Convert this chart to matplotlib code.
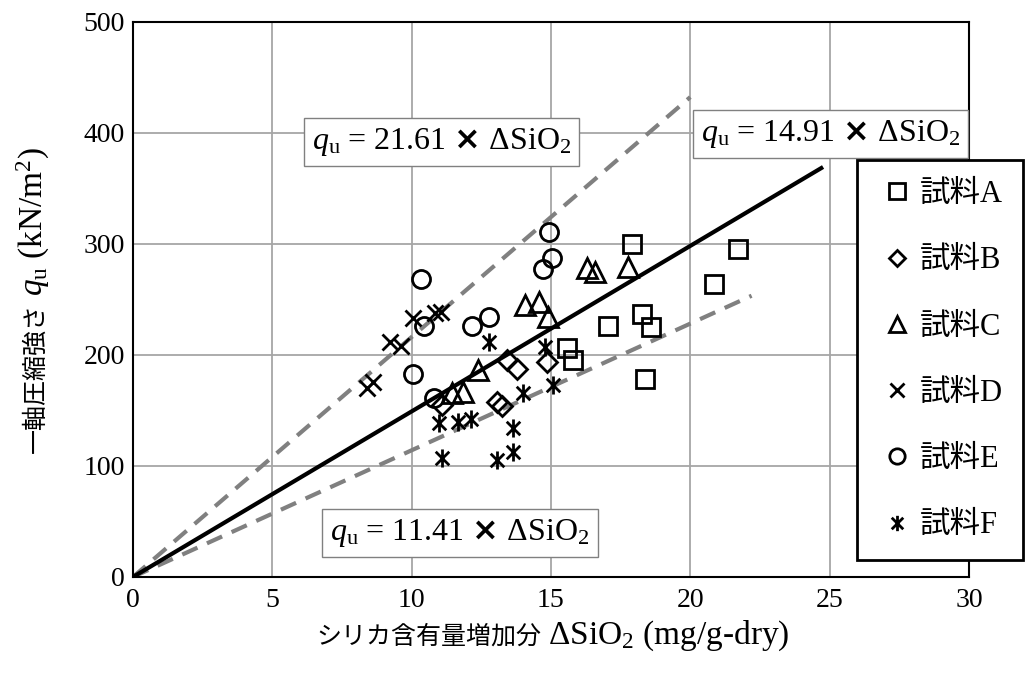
import numpy as np
import matplotlib
matplotlib.use("Agg")
import matplotlib.pyplot as plt
from matplotlib.path import Path
from matplotlib.lines import Line2D

plt.rcParams['font.family'] = ['Liberation Serif', 'Noto Sans CJK JP']
plt.rcParams['mathtext.fontset'] = 'custom'
plt.rcParams['mathtext.rm'] = 'Liberation Serif'
plt.rcParams['mathtext.it'] = 'Liberation Serif:italic'
plt.rcParams['mathtext.bf'] = 'DejaVu Sans:bold'

# ------------------------------------------------------------
# data
# ------------------------------------------------------------
a_x = [17.9, 21.7, 20.84, 17.04, 18.26, 18.58, 15.57, 15.78, 18.36]
a_y = [300, 295, 264, 226, 237, 225, 206, 195, 178]

b_x = [11.08, 13.06, 13.24, 13.41, 13.77, 14.85]
b_y = [155, 158, 154, 195, 187, 194]

c_x = [11.44, 11.84, 12.37, 14.06, 14.56, 14.89, 16.28, 16.57, 17.75]
c_y = [166, 167, 186, 245, 248, 234, 278, 275, 279]

d_x = [8.39, 8.61, 9.22, 9.61, 10.04, 10.83, 11.05]
d_y = [170, 176, 212, 208, 233, 238, 239]

e_x = [10.33, 10.44, 10.04, 10.8, 12.16, 12.77, 14.92, 15.03, 14.7]
e_y = [268, 226, 183, 161, 226, 234, 311, 287, 277]

f_x = [12.77, 14.78, 15.06, 13.99, 13.63, 13.63, 13.06, 12.12, 11.66, 10.98, 11.08]
f_y = [212, 207, 173, 166, 134, 113, 105, 142, 140, 139, 107]

labels = ['試料A', '試料B', '試料C', '試料D', '試料E', '試料F']

# fitted slopes and the x range each line is drawn over
slope_upper, xmax_upper = 21.61, 20.0
slope_mid, xmax_mid = 14.91, 24.7
slope_lower, xmax_lower = 11.41, 22.2

# asterisk marker: vertical bar plus an X
ast = Path([(0, -1), (0, 1), (-0.75, -0.75), (0.75, 0.75), (-0.75, 0.75), (0.75, -0.75)],
           [Path.MOVETO, Path.LINETO, Path.MOVETO, Path.LINETO, Path.MOVETO, Path.LINETO])

styles = [
    dict(marker='s', ms=13),
    dict(marker='D', ms=10),
    dict(marker='^', ms=14),
    dict(marker='x', ms=12),
    dict(marker='o', ms=13),
    dict(marker=ast, ms=13),
]


def place_pieces(fig, pieces, x, y, vertical=False, gap=7):
    """Lay text pieces end to end (pixel coords), centred on x (or y)."""
    r = fig.canvas.get_renderer()
    W, H = fig.bbox.width, fig.bbox.height
    texts = []
    pos = 0
    for s, size in pieces:
        if vertical:
            t = fig.text(x / W, (y + pos) / H, s, fontsize=size, rotation=90,
                         rotation_mode='anchor', ha='left', va='baseline')
            pos += t.get_window_extent(r).height + gap
        else:
            t = fig.text((x + pos) / W, y / H, s, fontsize=size,
                         ha='left', va='baseline')
            pos += t.get_window_extent(r).width + gap
        texts.append(t)
    pos -= gap
    for t in texts:
        px, py = t.get_position()
        if vertical:
            t.set_position((px, py - pos / 2 / H))
        else:
            t.set_position((px - pos / 2 / W, py))
    return texts


fig = plt.figure(figsize=(10.34, 6.82), dpi=100)
ax = fig.add_axes([0.1286, 0.154, 0.8085, 0.814])

# fitted lines
for k, xm, style in [(slope_upper, xmax_upper, 'dashed'),
                     (slope_lower, xmax_lower, 'dashed'),
                     (slope_mid, xmax_mid, 'solid')]:
    xs = np.array([0, xm])
    if style == 'dashed':
        ax.plot(xs, k * xs, color='#808080', lw=3, ls=(0, (4, 2.5)), zorder=2)
    else:
        ax.plot(xs, k * xs, color='black', lw=3, zorder=2)

series = [(a_x, a_y), (b_x, b_y), (c_x, c_y), (d_x, d_y), (e_x, e_y), (f_x, f_y)]
for (xs, ys), st in zip(series, styles):
    ax.plot(xs, ys, ls='none', marker=st['marker'], ms=st['ms'], mfc='none',
            mec='black', mew=2, zorder=3)

ax.set_xlim(0, 30)
ax.set_ylim(0, 500)
ax.set_xticks(range(0, 31, 5))
ax.set_yticks(range(0, 501, 100))
ax.tick_params(length=0, labelsize=20)
ax.tick_params(axis='x', pad=8)
ax.tick_params(axis='y', pad=6)
ax.grid(True, color='#a6a6a6', lw=1.3)
ax.set_axisbelow(True)
for sp in ax.spines.values():
    sp.set_linewidth(1.5)

# axis titles: CJK part as plain text, latin part with mathtext
place_pieces(fig, [('シリカ含有量増加分', 18), ('ΔSiO$_2$ (mg/g-dry)', 24)],
             553, 38)
place_pieces(fig, [('一軸圧縮強さ', 18), ('$q_\\mathrm{u}$ (kN/m$^2$)', 24)],
             43, 382, vertical=True)

box = dict(boxstyle='square,pad=0.25', fc='white', ec='#808080', lw=1)
eq = '$q_\\mathrm{u}$ = %s $\\mathbf{×}$ ΔSiO$_2$'
ax.text(11.08, 392, eq % '21.61', fontsize=23,
        ha='center', va='center', bbox=box, zorder=4)
ax.text(25.04, 399, eq % '14.91', fontsize=23,
        ha='center', va='center', bbox=box, zorder=4)
ax.text(11.73, 40, eq % '11.41', fontsize=23,
        ha='center', va='center', bbox=box, zorder=4)

handles = [Line2D([], [], ls='none', marker=st['marker'], ms=st['ms'] * 0.85,
                  mfc='none', mec='black', mew=2) for st in styles]
leg = ax.legend(handles, labels, loc='upper left', bbox_to_anchor=(0.866, 0.751),
                fontsize=22, frameon=True, fancybox=False, framealpha=1,
                edgecolor='black', labelspacing=1.22, handlelength=1.3,
                handletextpad=0.1, borderpad=0.65, borderaxespad=0)
leg.get_frame().set_linewidth(2)
leg.set_zorder(5)

fig.savefig('out.png', dpi=100)
